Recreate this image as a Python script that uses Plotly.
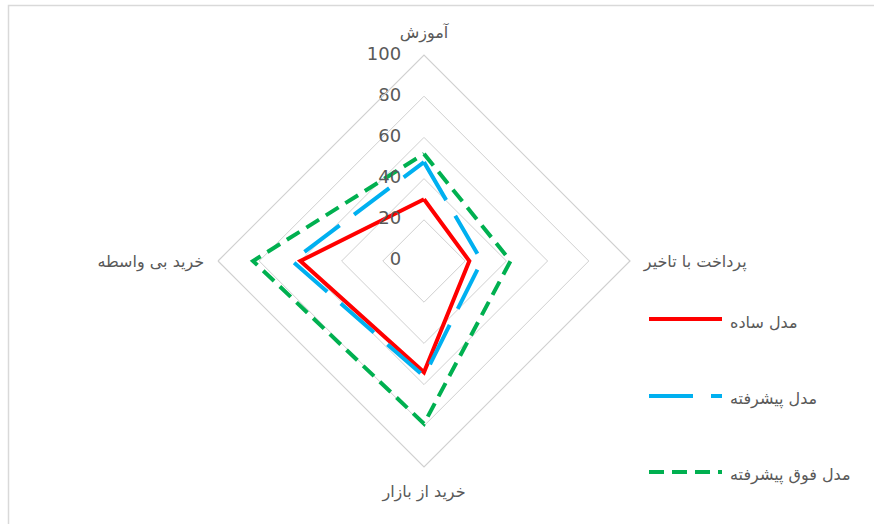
import plotly.graph_objects as go

categories = ["آموزش", "پرداخت با تاخیر", "خرید از بازار", "خرید بی واسطه"]
series_names = ["مدل ساده", "مدل پیشرفته", "مدل فوق پیشرفته"]
simple_vals = [30, 22, 54, 60]
advanced_vals = [48, 28, 56, 64]
super_vals = [52, 42, 79, 83]
radial_ticks = [0, 20, 40, 60, 80, 100]

colors = ["#ff0000", "#00b0f0", "#00b050"]
dashes = ["solid", "44px,18px", "15px,8px"]
all_vals = [simple_vals, advanced_vals, super_vals]

W, H = 874, 524
NB = "\u00a0"
fig = go.Figure()
for name, vals, col, dsh in zip(series_names, all_vals, colors, dashes):
    fig.add_trace(go.Scatterpolar(
        r=vals + vals[:1], theta=categories + categories[:1], mode="lines",
        name=name, line=dict(color=col, width=4, dash=dsh), showlegend=False))

# radial tick labels, placed on the first axis through the polar scale
# (plotly skips points at exactly r=0, so the centre label sits a hair off it)
fig.add_trace(go.Scatterpolar(
    r=[max(v, 0.05) for v in radial_ticks], theta=[categories[0]] * len(radial_ticks),
    mode="text", text=[str(v) + NB * 4 for v in radial_ticks], textposition="middle left",
    textfont=dict(size=18, color="#595959", family="DejaVu Sans"),
    cliponaxis=False, showlegend=False, hoverinfo="skip"))

cx, cy, R = 424, 261, 206
fig.update_layout(
    width=W, height=H, margin=dict(l=0, r=0, t=0, b=0),
    paper_bgcolor="white", plot_bgcolor="white",
    font=dict(family="DejaVu Sans", color="#595959"),
    polar=dict(
        domain=dict(x=[(cx - R) / W, (cx + R) / W], y=[(H - cy - R) / H, (H - cy + R) / H]),
        gridshape="linear", bgcolor="white",
        radialaxis=dict(range=[0, 100], tickvals=radial_ticks, angle=90,
                        showline=False, gridcolor="#d0d0d0", gridwidth=1.2, ticks="",
                        showticklabels=False),
        angularaxis=dict(direction="clockwise", rotation=90, showgrid=False,
                         linecolor="#d0d0d0", linewidth=1.2, ticks="outside", ticklen=10,
                         tickcolor="rgba(0,0,0,0)",
                         tickfont=dict(size=16, color="#595959", family="DejaVu Sans")),
    ),
)

# legend drawn manually
leg_y = [319, 396, 472]
shapes = [dict(type="rect", xref="paper", yref="paper", x0=8.5 / W, x1=1.02, y0=-0.02,
               y1=1 - 5.5 / H, line=dict(color="#d9d9d9", width=1.5))]
annotations = []
for name, col, dsh, y in zip(series_names, colors, dashes, leg_y):
    shapes.append(dict(type="line", xref="paper", yref="paper", x0=649 / W, x1=722 / W,
                       y0=1 - y / H, y1=1 - y / H,
                       line=dict(color=col, width=4, dash=dsh)))
    annotations.append(dict(xref="paper", yref="paper", x=728 / W, y=1 - (y + 3) / H,
                            text=name, showarrow=False, xanchor="left", yanchor="middle",
                            font=dict(size=16, color="#595959", family="DejaVu Sans")))
fig.update_layout(shapes=shapes, annotations=annotations)

fig.write_html("out.html", config={"displayModeBar": False},
               post_script=["document.body.style.margin='0px';"])
